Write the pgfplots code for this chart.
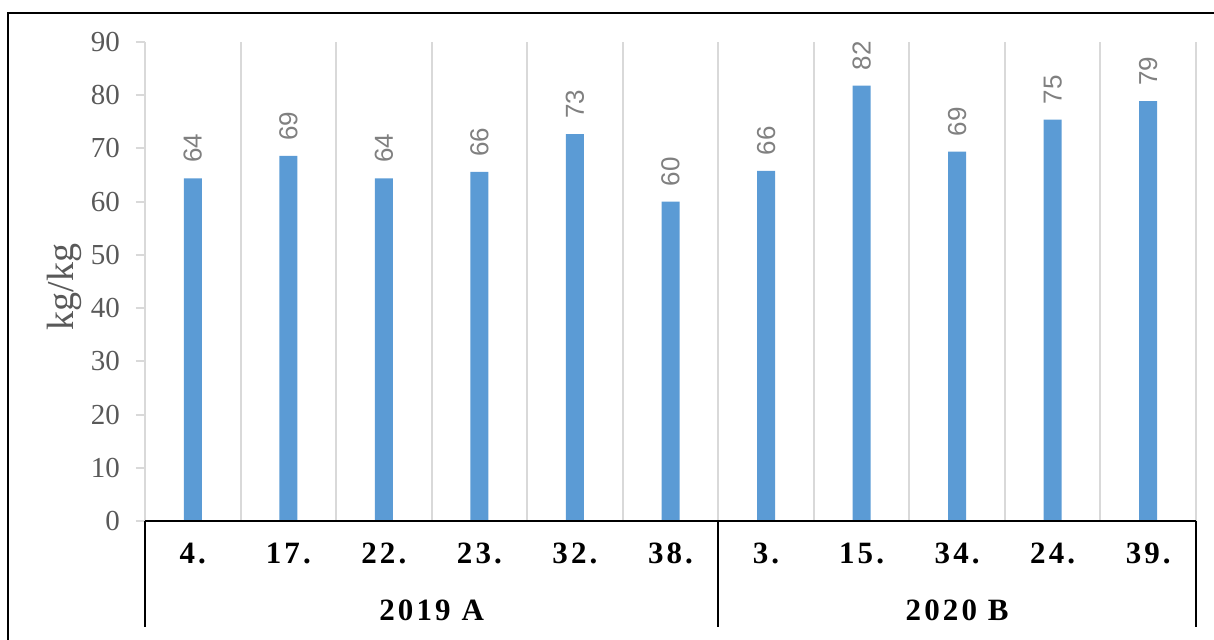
\documentclass[border=0pt]{standalone}
\usepackage{pgfplots}
\pgfplotsset{compat=1.18}
\usepackage{pgfplotstable}
\usepackage{fontspec}
\setmainfont{Liberation Serif}
\newfontfamily\valfont{Liberation Sans}
\newfontfamily\catfont[LetterSpace=10]{Liberation Serif}
\definecolor{barblue}{HTML}{5B9BD5}
\definecolor{txtgray}{HTML}{595959}
\definecolor{valgray}{HTML}{808080}
\definecolor{gridgray}{HTML}{D9D9D9}

\pgfplotstableread{
x y
0 64.4
1 68.6
2 64.4
3 65.6
4 72.7
5 60.0
6 65.8
7 81.8
8 69.4
9 75.4
10 78.9
}\datatable

\begin{document}
\begin{tikzpicture}
\useasboundingbox (0,0) rectangle (607pt,-319.5pt);
\draw[line width=1pt] (4.2pt,-6.3pt) rectangle (700pt,-400pt);
\begin{axis}[
  scale only axis,
  width=525.5pt, height=239.5pt,
  at={(72.5pt,-260.5pt)}, anchor=south west,
  xmin=-0.5, xmax=10.5, ymin=0, ymax=90,
  ytick={0,10,...,90},
  xtick={0,...,10},
  xticklabels={4.,17.,22.,23.,32.,38.,3.,15.,34.,24.,39.},
  minor xtick={-0.5,0.5,...,10.5},
  xminorgrids,
  minor x grid style={gridgray, line width=1pt},
  axis line style={draw=none},
  major x tick style={draw=none},
  minor x tick style={draw=none},
  ytick style={gridgray, line width=1pt},
  tick align=outside,
  major tick length=4.5pt,
  ytick pos=left, xtick pos=bottom,
  /pgf/number format/assume math mode=true,
  yticklabel style={font=\fontsize{14.5}{14.5}\selectfont, text=txtgray, xshift=-4.5pt},
  xticklabel style={font=\catfont\bfseries\fontsize{15.5}{15.5}\selectfont, text=black, anchor=center, yshift=-11.5pt},
  clip=false,
  ybar, bar width=9pt,
  nodes near coords={\pgfmathprintnumber[fixed,precision=0]{\pgfplotspointmeta}},
  every node near coord/.append style={rotate=90, anchor=west, inner xsep=7.5pt, inner ysep=0pt, font=\valfont\fontsize{13}{13}\selectfont, text=valgray},
]
\addplot[fill=barblue, draw=none] table[x=x,y=y]{\datatable};
\draw[black, line width=1pt] (axis cs:-0.5,0) -- (axis cs:10.5,0);
\draw[black, line width=1pt] (axis cs:-0.5,0) -- (axis cs:-0.5,-19.9);
\draw[black, line width=1pt] (axis cs:5.5,0) -- (axis cs:5.5,-19.9);
\draw[black, line width=1pt] (axis cs:10.5,0) -- (axis cs:10.5,-19.9);
\node[font=\catfont\bfseries\fontsize{15.5}{15.5}\selectfont, anchor=center] at (axis cs:2.5,-16.7) {2019 A};
\node[font=\catfont\bfseries\fontsize{15.5}{15.5}\selectfont, anchor=center] at (axis cs:8,-16.7) {2020 B};
\node[rotate=90, anchor=center, font=\fontsize{19}{19}\selectfont, text=txtgray] at (axis cs:-1.34,44) {kg/kg};
\end{axis}
\end{tikzpicture}
\end{document}
